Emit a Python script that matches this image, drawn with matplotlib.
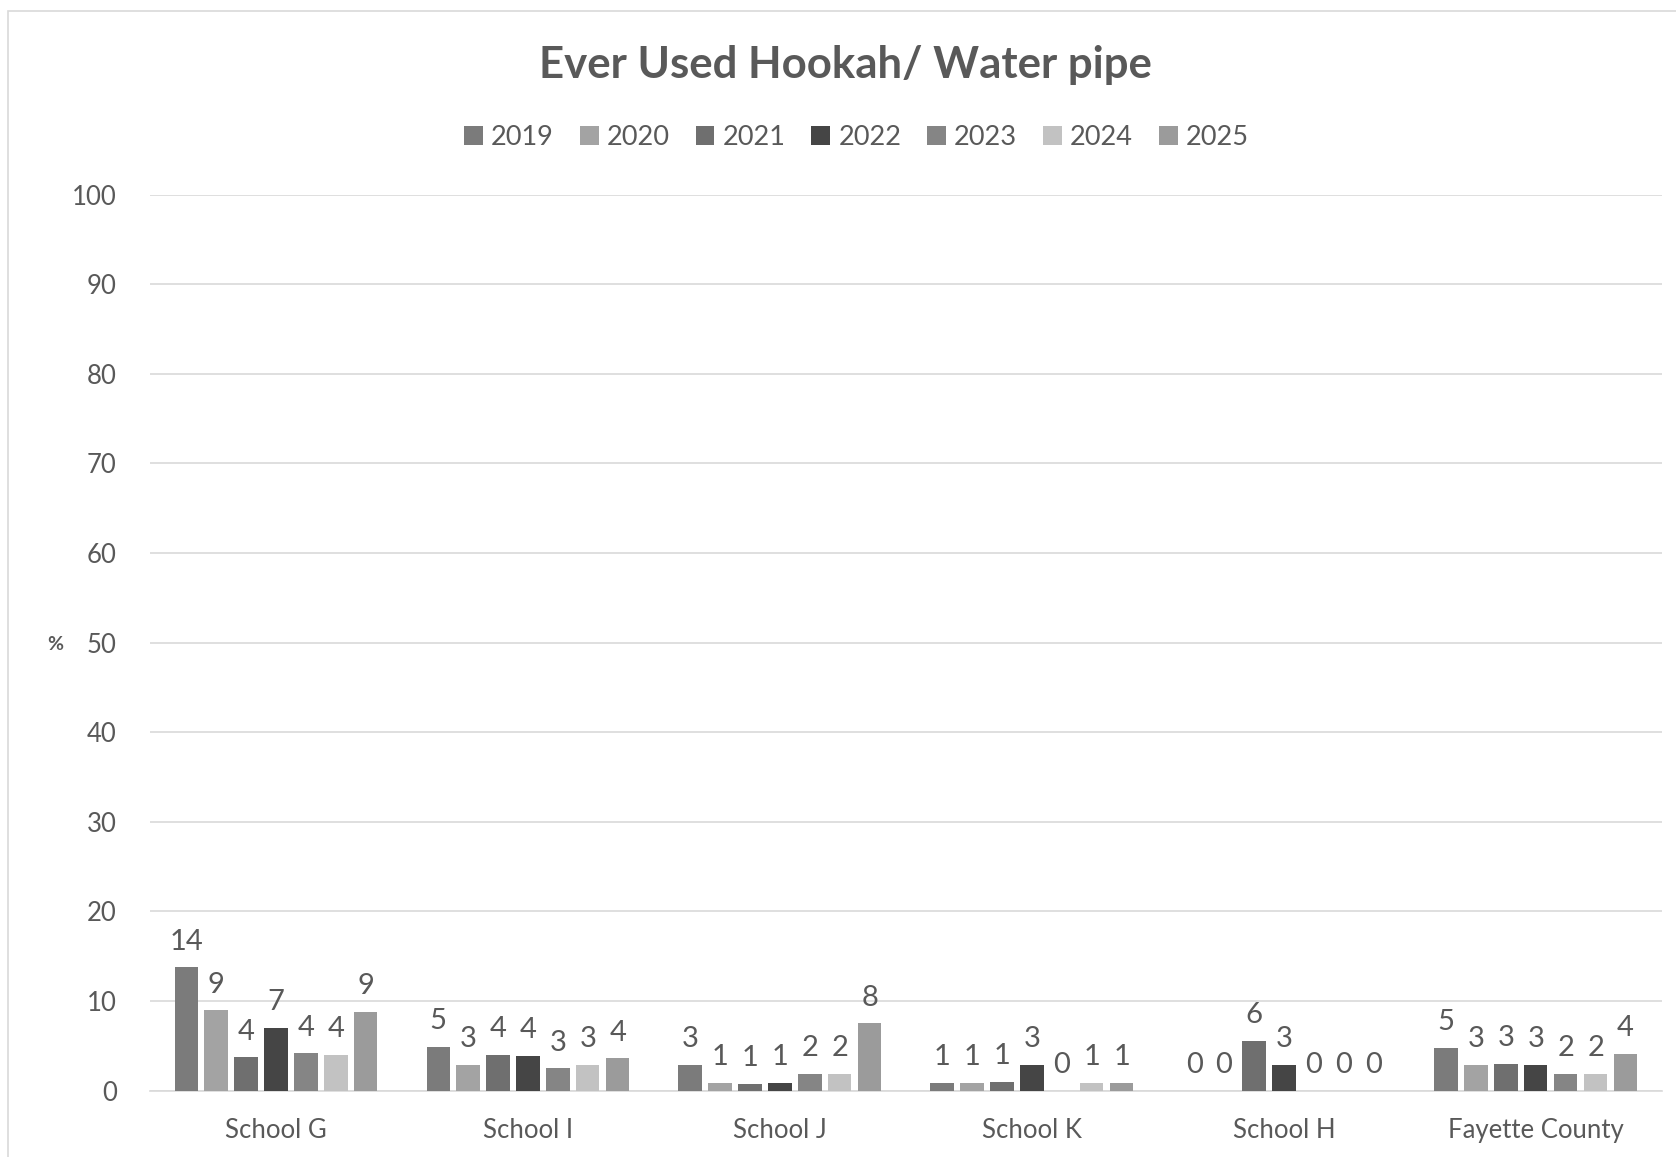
import matplotlib
matplotlib.use("Agg")
import matplotlib.pyplot as plt
import numpy as np
from matplotlib.patches import Rectangle

categories = ["School G", "School I", "School J", "School K", "School H", "Fayette County"]
years = ["2019", "2020", "2021", "2022", "2023", "2024", "2025"]
values = {
    "2019": [13.8, 4.9, 2.9, 0.9, 0.0, 4.8],
    "2020": [9.0, 2.9, 0.9, 0.9, 0.0, 2.9],
    "2021": [3.75, 4.0, 0.75, 1.0, 5.6, 3.0],
    "2022": [7.0, 3.9, 0.9, 2.9, 2.9, 2.9],
    "2023": [4.2, 2.5, 1.9, 0.0, 0.0, 1.9],
    "2024": [4.0, 2.9, 1.9, 0.9, 0.0, 1.9],
    "2025": [8.8, 3.6, 7.5, 0.9, 0.0, 4.1],
}
colors = ["#7b7b7b", "#a3a3a3", "#6f6f6f", "#454545", "#858585", "#c2c2c2", "#9b9b9b"]
yticks = [0, 10, 20, 30, 40, 50, 60, 70, 80, 90, 100]

plt.rcParams['font.family'] = ['Lato', 'DejaVu Sans']
txt = "#595959"

fig = plt.figure(figsize=(16.76, 11.57), dpi=100)
ax = fig.add_axes([0.0895, 0.0573, 0.902, 0.7745])

x = np.arange(len(categories))
pitch = 0.1187
width = 0.093
n = len(years)
for i, (yr, c) in enumerate(zip(years, colors)):
    pos = x + (i - (n - 1) / 2) * pitch
    bars = ax.bar(pos, values[yr], width=width, color=c, label=yr, zorder=3)
    for b, v in zip(bars, values[yr]):
        ax.annotate(str(int(v + 0.5)), (b.get_x() + b.get_width() / 2, v),
                    xytext=(0, 9), textcoords="offset points", ha="center", va="bottom",
                    fontsize=21, color=txt)

ax.set_xlim(-0.5, len(categories) - 0.5)
ax.set_ylim(0, 100)
ax.set_yticks(yticks)
ax.set_xticks(x)
ax.set_xticklabels(categories)
ax.tick_params(axis="y", length=0, labelsize=18.5, colors=txt, pad=24)
ax.tick_params(axis="x", length=0, labelsize=18.5, colors=txt, pad=20)
ax.grid(axis="y", color="#d9d9d9", linewidth=1.2, zorder=0)
for s in ["left", "right", "top"]:
    ax.spines[s].set_visible(False)
ax.spines["bottom"].set_color("#d9d9d9")
ax.spines["bottom"].set_linewidth(1.2)

fig.text(0.5045, 0.944, "Ever Used Hookah/ Water pipe", ha="center", va="center",
         fontsize=31.5, fontweight="bold", color=txt)
fig.text(0.033, 0.443, "%", ha="center", va="center", fontsize=14, fontweight="bold", color=txt)

leg = fig.legend(loc="center", bbox_to_anchor=(0.511, 0.881), ncol=7, frameon=False,
                 fontsize=19.5, handlelength=0.7, handleheight=0.7, handletextpad=0.3,
                 columnspacing=0.95)
for t in leg.get_texts():
    t.set_color(txt)

fig.patches.append(Rectangle((0.005, -0.01), 1.0, 1.0008, transform=fig.transFigure,
                             fill=False, edgecolor="#d9d9d9", linewidth=1.2))

fig.savefig("out.png", dpi=100)
